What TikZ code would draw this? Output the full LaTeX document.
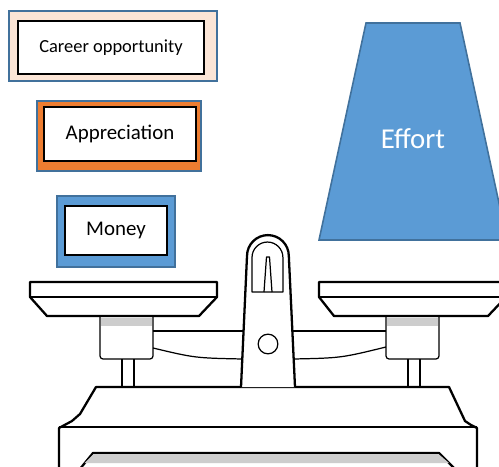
\documentclass[tikz,border=0pt]{standalone}
\usepackage{fontspec}
\setmainfont{Carlito}
\definecolor{framepeach}{RGB}{251,229,214}
\definecolor{frameblue}{RGB}{65,113,156}
\definecolor{apporange}{RGB}{237,125,49}
\definecolor{fillblue}{RGB}{91,155,213}
\definecolor{bandgray}{RGB}{205,205,205}

\begin{document}
\begin{tikzpicture}[x=0.02cm, y=-0.02cm,
    outerbox/.style={draw=frameblue, line width=0.9pt, inner sep=0pt},
    innerbox/.style={draw=black, line width=0.7pt, fill=white, inner sep=0pt},
    scaleline/.style={line width=1.3pt, line join=round},
    thinline/.style={line width=0.7pt, line join=round}]
  \useasboundingbox (0,0) rectangle (499,466);
  \clip (0,0) rectangle (499,466);

  % Reward boxes
  \node[outerbox, fill=framepeach, minimum width=4.16cm, minimum height=1.4cm] (careerframe) at (113,46) {};
  \node[innerbox, minimum width=3.72cm, minimum height=1.06cm,
        font=\fontsize{10.5pt}{12pt}\selectfont] (career) at (111,47.5) {Career opportunity};
  \node[outerbox, fill=apporange, minimum width=3.28cm, minimum height=1.4cm] (appframe) at (119,136) {};
  \node[innerbox, minimum width=3.04cm, minimum height=1.08cm,
        font=\fontsize{11.9pt}{14pt}\selectfont] (appreciation) at (120,134) {Appreciation};
  \node[outerbox, fill=fillblue, minimum width=2.36cm, minimum height=1.42cm] (moneyframe) at (116,231.5) {};
  \node[innerbox, minimum width=2.04cm, minimum height=0.98cm,
        font=\fontsize{11.9pt}{14pt}\selectfont] (money) at (116,230.5) {Money};

  % Effort weight
  \draw[draw=frameblue, line width=0.9pt, fill=fillblue]
    (366,23) -- (460,23) -- (507,240) -- (319,240) -- cycle;
  \node[text=white, font=\fontsize{16.4pt}{19pt}\selectfont] (effort) at (413,139) {Effort};

  % Base
  \draw[scaleline, fill=white] (59,475) -- (59,428) -- (72,421) -- (80,414) -- (96,387)
    -- (449,387) -- (465,421) -- (471,425) -- (477,428) -- (477,475);
  \draw[thinline] (59,427) -- (477,427);
  \draw[scaleline, fill=white] (75,475) -- (93,453) -- (439,453) -- (461,475);
  \fill[bandgray] (93.5,454) -- (438.5,454) -- (449,463) -- (84.5,463) -- cycle;

  % Beams
  \draw[thinline] (153,331) -- (244,331);
  \draw[thinline] (153,348) .. controls (195,358) .. (243,359);
  \draw[thinline] (292,331) -- (386,331);
  \draw[thinline] (293,359) .. controls (341,358) .. (386,347);

  % Centre post
  \draw[scaleline, fill=white] (241,387) -- (247,256) arc[start angle=180, end angle=0, radius=11.9pt]
    -- (295,387);
  \draw[thinline] (252,292) -- (252,257.5) arc[start angle=180, end angle=0, radius=8.8pt]
    -- (283,292) -- cycle;
  \draw[thinline] (264,292) -- (266.5,257) -- (269.5,257) -- (272,292);
  \draw[thinline] (268,344) circle (5.6pt);

  % Pan holders and stems
  \foreach \hx/\sx in {100/122, 386/408} {
    \draw[thinline, fill=white] (\hx,317) -- (\hx,356) arc[start angle=180, end angle=270, radius=1.7pt]
      -- ({\hx+50},359) arc[start angle=270, end angle=360, radius=1.7pt] -- ({\hx+53},317);
    \fill[bandgray] ({\hx+0.6},317.5) rectangle ({\hx+52.4},326);
    \draw[thinline] (\sx,359) -- (\sx,387) (\sx+12,359) -- (\sx+12,387);
  }

  % Pans
  \draw[scaleline, fill=white] (30,282) -- (217,282) -- (217,297) -- (199,316) -- (47,316) -- (30,297) -- cycle;
  \draw[thinline] (30,297) -- (217,297);
  \draw[scaleline, fill=white] (319,282) -- (506,282) -- (506,297) -- (488,316) -- (334,316) -- (319,297) -- cycle;
  \draw[thinline] (319,297) -- (506,297);
\end{tikzpicture}
\end{document}
